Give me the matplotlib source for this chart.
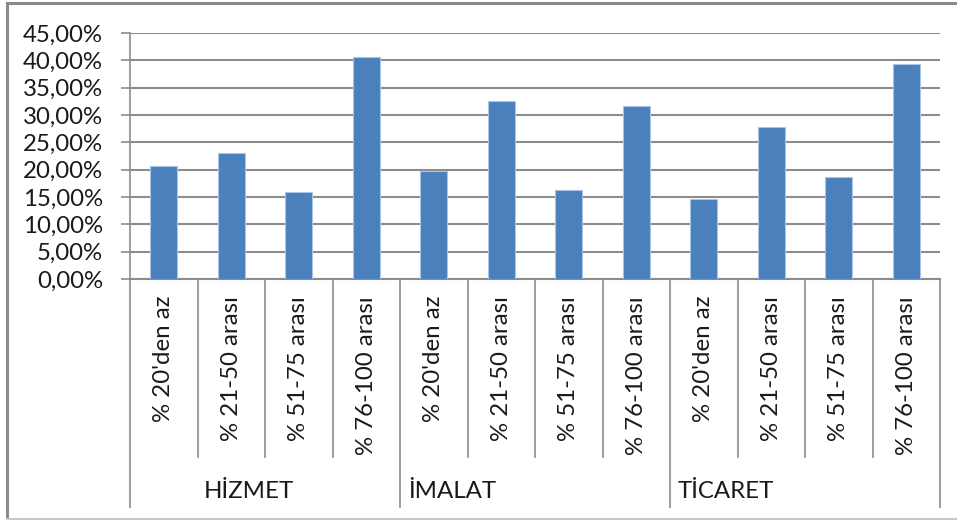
import matplotlib
matplotlib.use("Agg")
import matplotlib.pyplot as plt
from matplotlib.transforms import blended_transform_factory
from matplotlib.ticker import FuncFormatter
from matplotlib.lines import Line2D

plt.rcParams['font.family'] = ['Lato', 'DejaVu Sans']

groups = ["HİZMET", "İMALAT", "TİCARET"]
categories = ["% 20'den az", "% 21-50 arası", "% 51-75 arası", "% 76-100 arası"]
values = [
    [20.7, 23.0, 16.0, 40.6],   # HİZMET
    [19.7, 32.5, 16.2, 31.7],   # İMALAT
    [14.6, 27.8, 18.6, 39.3],   # TİCARET
]
y_ticks = [0, 5, 10, 15, 20, 25, 30, 35, 40, 45]

W, H = 957, 520
fig = plt.figure(figsize=(W / 100, H / 100), dpi=100)
left, right, top, bottom = 130, 940, 33, 279
ax = fig.add_axes([left / W, (H - bottom) / H, (right - left) / W, (bottom - top) / H])

bar_color = "#4A81BD"
text_color = "#1a1a1a"
grid_color = "#8c8c8c"
fs = 17.3

labels = []
vals = []
for g, row in zip(groups, values):
    for c, v in zip(categories, row):
        labels.append(c)
        vals.append(v)
x = list(range(len(vals)))

ax.bar(x, vals, width=0.4, color=bar_color, edgecolor="#a9c4e6", linewidth=0.8, zorder=3)

ax.set_xlim(-0.5, len(vals) - 0.5)
ax.set_ylim(0, 45)
ax.set_yticks(y_ticks)
ax.yaxis.set_major_formatter(FuncFormatter(lambda v, p: f"{v:.2f}".replace(".", ",") + "%"))
ax.tick_params(axis='y', length=6.5, width=1.2, color=grid_color, pad=13, labelsize=fs, labelcolor=text_color)
ax.set_xticks([])
ax.grid(axis='y', color=grid_color, linewidth=1.5, zorder=0)
for s in ["top", "right"]:
    ax.spines[s].set_visible(False)
ax.spines["left"].set_color(grid_color)
ax.spines["left"].set_linewidth(1.2)
ax.spines["bottom"].set_color(grid_color)
ax.spines["bottom"].set_linewidth(1.5)

trans = blended_transform_factory(ax.transData, fig.transFigure)
n_per = len(categories)
y_axis_bottom = (H - bottom) / H
y_cat_end = (H - 457) / H
y_grp_end = (H - 507) / H
for k in range(len(vals) + 1):
    xb = k - 0.5
    yend = y_grp_end if k % n_per == 0 else y_cat_end
    ax.add_line(Line2D([xb, xb], [y_axis_bottom, yend], transform=trans, color=grid_color,
                       linewidth=1.2, clip_on=False))

y_lab_top = (H - 296) / H
for xi, lab in zip(x, labels):
    ax.text(xi, y_lab_top, lab, transform=trans, rotation=90, ha='center', va='top',
            fontsize=fs, color=text_color)

y_grp = (H - 491) / H
for gi, g in enumerate(groups):
    if gi == 0:
        ax.text(gi * n_per + 1.26, y_grp, g, transform=trans, ha='center', va='center',
                fontsize=fs, color=text_color)
    else:
        ax.text(gi * n_per - 0.5 + 0.12, y_grp, g, transform=trans, ha='left', va='center',
                fontsize=fs, color=text_color)

# outer chart border (cropped on the right)
border = "#8a8a8a"
fig.add_artist(Line2D([7 / W, 7 / W], [(H - 3) / H, (H - 519) / H], transform=fig.transFigure,
                      color=border, linewidth=2.2))
fig.add_artist(Line2D([7 / W, 1], [(H - 3) / H, (H - 3) / H], transform=fig.transFigure,
                      color=border, linewidth=2.2))
fig.add_artist(Line2D([7 / W, 1], [(H - 519) / H, (H - 519) / H], transform=fig.transFigure,
                      color="#c8c8c8", linewidth=1.5))

fig.savefig("out.png", dpi=100, facecolor="white")
